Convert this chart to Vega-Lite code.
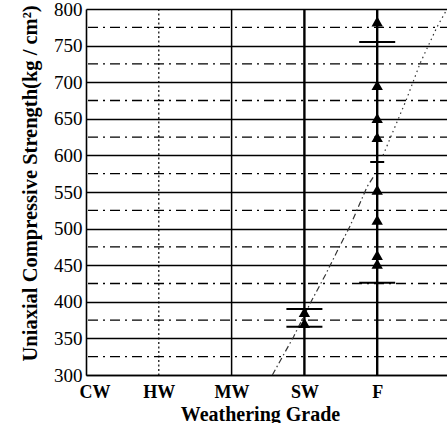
{
  "$schema": "https://vega.github.io/schema/vega-lite/v6.json",
  "width": 364,
  "height": 366,
  "autosize": {"type": "none"},
  "padding": {"left": 86, "top": 9, "right": 0, "bottom": 48},
  "background": "white",
  "config": {
    "view": {"stroke": null},
    "font": "Liberation Serif",
    "axisX": {
      "grid": false, "ticks": false, "tickSize": 0, "domainColor": "black", "domainWidth": 1.3,
      "labelFont": "Liberation Serif", "labelFontSize": 18, "labelFontWeight": "bold", "labelColor": "black",
      "labelBaseline": "alphabetic", "labelPadding": 22, "labelFlush": true, "labelFlushOffset": 7,
      "titleFont": "Liberation Serif", "titleFontSize": 20, "titleFontWeight": "bold", "titleColor": "black",
      "titleX": 174, "titleY": 45, "titleBaseline": "alphabetic", "titleAlign": "center", "titleAnchor": "middle"
    },
    "axisY": {
      "grid": true, "gridColor": "black", "gridOpacity": 1, "gridWidth": 1.3,
      "ticks": false, "tickSize": 0, "domainColor": "black", "domainWidth": 1.6,
      "labelFont": "Liberation Serif", "labelFontSize": 19, "labelColor": "black", "labelPadding": 4, "labelBaseline": "middle",
      "titleFont": "Liberation Serif", "titleFontSize": 20.5, "titleFontWeight": "bold", "titleColor": "black",
      "titleAngle": -90, "titleAnchor": "start", "titleAlign": "left", "titleBaseline": "alphabetic", "titleX": -50, "titleY": 352
    }
  },
  "datasets": {
    "points": [
      {"grade": 4, "strength": 783},
      {"grade": 4, "strength": 696},
      {"grade": 4, "strength": 651},
      {"grade": 4, "strength": 625},
      {"grade": 4, "strength": 553},
      {"grade": 4, "strength": 512},
      {"grade": 4, "strength": 464},
      {"grade": 4, "strength": 452},
      {"grade": 3, "strength": 386},
      {"grade": 3, "strength": 371}
    ],
    "bars": [
      {"grade": 4, "strength": 755},
      {"grade": 4, "strength": 426},
      {"grade": 3, "strength": 390},
      {"grade": 3, "strength": 366}
    ],
    "shortbars": [
      {"grade": 4, "strength": 591}
    ],
    "trend_lower": [
      {"grade": 2.56, "strength": 300},
      {"grade": 2.71, "strength": 327},
      {"grade": 2.85, "strength": 352},
      {"grade": 3.08, "strength": 398},
      {"grade": 3.29, "strength": 437},
      {"grade": 3.49, "strength": 477},
      {"grade": 3.63, "strength": 504},
      {"grade": 3.86, "strength": 557},
      {"grade": 3.95, "strength": 571}
    ],
    "trend_upper": [
      {"grade": 4.08, "strength": 600},
      {"grade": 4.4, "strength": 676},
      {"grade": 4.59, "strength": 726},
      {"grade": 4.82, "strength": 775},
      {"grade": 4.96, "strength": 800}
    ],
    "minor_levels": [
      {"strength": 325}, {"strength": 375}, {"strength": 425}, {"strength": 475}, {"strength": 525},
      {"strength": 575}, {"strength": 625}, {"strength": 675}, {"strength": 725}, {"strength": 775}
    ],
    "grade_dotted": [{"grade": 1}],
    "grade_solid": [{"grade": 2}],
    "grade_thick": [{"grade": 3}, {"grade": 4}]
  },
  "layer": [
    {
      "data": {"name": "minor_levels"},
      "mark": {"type": "rule", "color": "black", "strokeWidth": 1.3, "strokeDash": [10, 5, 2, 5]},
      "encoding": {
        "y": {"field": "strength", "type": "quantitative", "scale": {"domain": [300, 800], "nice": false, "zero": false},
              "axis": {"values": [300, 350, 400, 450, 500, 550, 600, 650, 700, 750, 800], "title": "Uniaxial Compressive Strength(kg / cm²)"}}
      }
    },
    {
      "data": {"name": "grade_dotted"},
      "mark": {"type": "rule", "color": "black", "strokeWidth": 1.2, "strokeDash": [2, 2.5]},
      "encoding": {
        "x": {"field": "grade", "type": "quantitative", "scale": {"domain": [0, 5], "nice": false, "zero": false},
              "axis": {"values": [0, 1, 2, 3, 4], "labelExpr": "['CW','HW','MW','SW','F'][datum.value]", "title": "Weathering Grade"}}
      }
    },
    {
      "data": {"name": "grade_solid"},
      "mark": {"type": "rule", "color": "black", "strokeWidth": 1.5},
      "encoding": {
        "x": {"field": "grade", "type": "quantitative", "scale": {"domain": [0, 5], "nice": false, "zero": false},
              "axis": {"values": [0, 1, 2, 3, 4], "labelExpr": "['CW','HW','MW','SW','F'][datum.value]", "title": "Weathering Grade"}}
      }
    },
    {
      "data": {"name": "grade_thick"},
      "mark": {"type": "rule", "color": "black", "strokeWidth": 2.4},
      "encoding": {
        "x": {"field": "grade", "type": "quantitative", "scale": {"domain": [0, 5], "nice": false, "zero": false},
              "axis": {"values": [0, 1, 2, 3, 4], "labelExpr": "['CW','HW','MW','SW','F'][datum.value]", "title": "Weathering Grade"}}
      }
    },
    {
      "data": {"name": "trend_lower"},
      "mark": {"type": "line", "color": "#333333", "strokeWidth": 1.2, "strokeDash": [6, 3, 1.5, 3]},
      "encoding": {
        "x": {"field": "grade", "type": "quantitative", "scale": {"domain": [0, 5], "nice": false, "zero": false},
              "axis": {"values": [0, 1, 2, 3, 4], "labelExpr": "['CW','HW','MW','SW','F'][datum.value]", "title": "Weathering Grade"}},
        "y": {"field": "strength", "type": "quantitative", "scale": {"domain": [300, 800], "nice": false, "zero": false},
              "axis": {"values": [300, 350, 400, 450, 500, 550, 600, 650, 700, 750, 800], "title": "Uniaxial Compressive Strength(kg / cm²)"}}
      }
    },
    {
      "data": {"name": "trend_upper"},
      "mark": {"type": "line", "color": "#333333", "strokeWidth": 1.2, "strokeDash": [1.5, 3.5]},
      "encoding": {
        "x": {"field": "grade", "type": "quantitative", "scale": {"domain": [0, 5], "nice": false, "zero": false},
              "axis": {"values": [0, 1, 2, 3, 4], "labelExpr": "['CW','HW','MW','SW','F'][datum.value]", "title": "Weathering Grade"}},
        "y": {"field": "strength", "type": "quantitative", "scale": {"domain": [300, 800], "nice": false, "zero": false},
              "axis": {"values": [300, 350, 400, 450, 500, 550, 600, 650, 700, 750, 800], "title": "Uniaxial Compressive Strength(kg / cm²)"}}
      }
    },
    {
      "data": {"name": "bars"},
      "mark": {"type": "tick", "orient": "horizontal", "color": "black", "size": 36, "thickness": 2, "opacity": 1},
      "encoding": {
        "x": {"field": "grade", "type": "quantitative", "scale": {"domain": [0, 5], "nice": false, "zero": false},
              "axis": {"values": [0, 1, 2, 3, 4], "labelExpr": "['CW','HW','MW','SW','F'][datum.value]", "title": "Weathering Grade"}},
        "y": {"field": "strength", "type": "quantitative", "scale": {"domain": [300, 800], "nice": false, "zero": false},
              "axis": {"values": [300, 350, 400, 450, 500, 550, 600, 650, 700, 750, 800], "title": "Uniaxial Compressive Strength(kg / cm²)"}}
      }
    },
    {
      "data": {"name": "shortbars"},
      "mark": {"type": "tick", "orient": "horizontal", "color": "black", "size": 14, "thickness": 2, "opacity": 1},
      "encoding": {
        "x": {"field": "grade", "type": "quantitative", "scale": {"domain": [0, 5], "nice": false, "zero": false},
              "axis": {"values": [0, 1, 2, 3, 4], "labelExpr": "['CW','HW','MW','SW','F'][datum.value]", "title": "Weathering Grade"}},
        "y": {"field": "strength", "type": "quantitative", "scale": {"domain": [300, 800], "nice": false, "zero": false},
              "axis": {"values": [300, 350, 400, 450, 500, 550, 600, 650, 700, 750, 800], "title": "Uniaxial Compressive Strength(kg / cm²)"}}
      }
    },
    {
      "data": {"name": "points"},
      "mark": {"type": "point", "shape": "triangle-up", "filled": true, "size": 130, "color": "black", "opacity": 1},
      "encoding": {
        "x": {"field": "grade", "type": "quantitative", "scale": {"domain": [0, 5], "nice": false, "zero": false},
              "axis": {"values": [0, 1, 2, 3, 4], "labelExpr": "['CW','HW','MW','SW','F'][datum.value]", "title": "Weathering Grade"}},
        "y": {"field": "strength", "type": "quantitative", "scale": {"domain": [300, 800], "nice": false, "zero": false},
              "axis": {"values": [300, 350, 400, 450, 500, 550, 600, 650, 700, 750, 800], "title": "Uniaxial Compressive Strength(kg / cm²)"}}
      }
    }
  ]
}
